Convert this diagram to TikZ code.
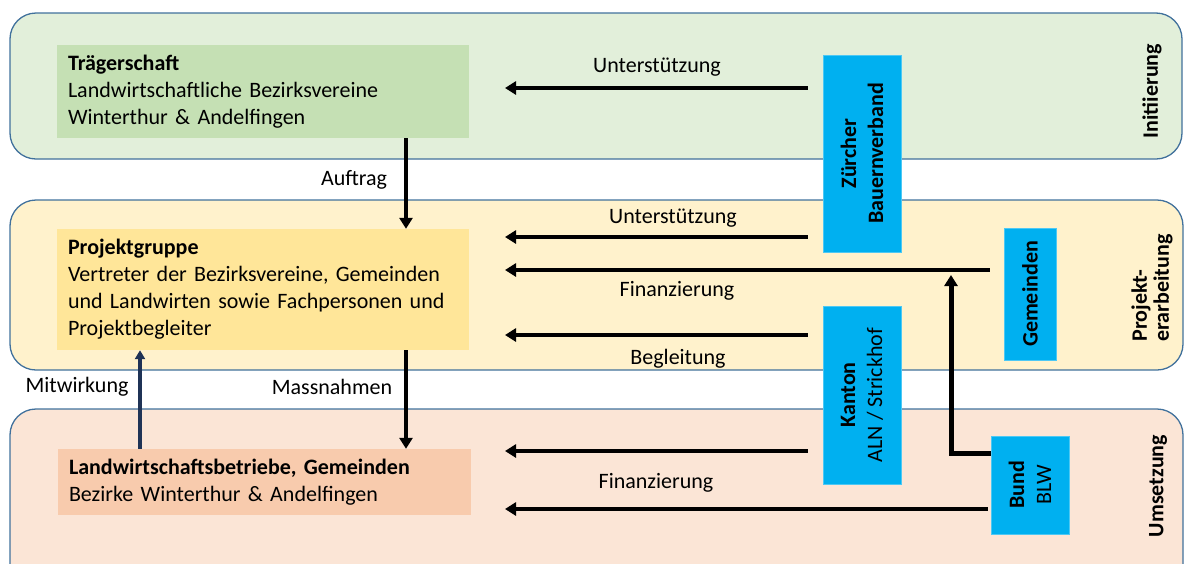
\documentclass[tikz,border=0pt]{standalone}
\usepackage{fontspec}
\setmainfont{Carlito}
\usepackage{tikz}
\usetikzlibrary{arrows.meta,calc,positioning}
\definecolor{bandline}{HTML}{41719C}
\definecolor{bandgreen}{HTML}{E2EFDA}
\definecolor{bandyellow}{HTML}{FFF2CC}
\definecolor{bandsalmon}{HTML}{FBE5D6}
\definecolor{boxgreen}{HTML}{C5E0B4}
\definecolor{boxyellow}{HTML}{FFE699}
\definecolor{boxsalmon}{HTML}{F8CBAD}
\definecolor{actorblue}{HTML}{00B0F0}
\definecolor{navy}{HTML}{1F3356}
\tikzstyle{band}=[draw=bandline,line width=1.3pt,rounded corners=26pt,inner sep=0pt]
\tikzstyle{group}=[inner xsep=11pt,inner ysep=0pt,align=left,font=\fontsize{22}{27}\selectfont]
\tikzstyle{actor}=[fill=actorblue,draw=actorblue!70!white,line width=.8pt,rotate=90,align=center,inner sep=0pt,font=\fontsize{22}{27}\selectfont\bfseries]
\tikzstyle{phase}=[rotate=90,align=left,inner sep=0pt,font=\fontsize{22}{22}\selectfont\bfseries]
\tikzstyle{label}=[inner sep=0pt,font=\fontsize{22}{24}\selectfont]
\tikzstyle{flow}=[-{Triangle[length=11pt,width=13pt]},line width=4.5pt,draw=black]
\tikzstyle{thinflow}=[-{Triangle[length=9pt,width=10pt]},line width=3.5pt,draw=navy]

\begin{document}
\begin{tikzpicture}[x=1pt,y=-1pt]
    \useasboundingbox (0,0) rectangle (1184,563);

    % phase bands
    \draw[band,fill=bandgreen] (10,13) rectangle (1182,159);
    \draw[band,fill=bandyellow] (10,200) rectangle (1183,370);
    \draw[band,fill=bandsalmon] (10,409) rectangle (1183,610);

    \node[phase] (initiierung) at (1152,91) {Initiierung};
    \node[phase] (erarbeitung) at (1152,288) {Projekt-\\erarbeitung};
    \node[phase] (umsetzung) at (1158,486) {Umsetzung};

    % groups
    \node[group,fill=boxgreen,minimum width=412pt,minimum height=93pt,text width=390pt] (traeger) at (263,91.5) {\textbf{Trägerschaft}\\Landwirtschaftliche Bezirksvereine\\Winterthur \& Andelfingen};
    \node[group,fill=boxyellow,minimum width=412pt,minimum height=121pt,text width=390pt] (projekt) at (263,289.5) {\textbf{Projektgruppe}\\Vertreter der Bezirksvereine, Gemeinden\\und Landwirten sowie Fachpersonen und\\Projektbegleiter};
    \node[group,fill=boxsalmon,minimum width=413pt,minimum height=66pt,text width=391pt] (betriebe) at (264.5,482) {\textbf{Landwirtschaftsbetriebe, Gemeinden}\\Bezirke Winterthur \& Andelfingen};

    % actors
    \node[actor,minimum width=197pt,minimum height=78pt] (bauernverband) at (862,153.5) {Zürcher\\Bauernverband};
    \node[actor,minimum width=132pt,minimum height=52pt] (gemeinden) at (1030,294) {Gemeinden};
    \node[actor,minimum width=178pt,minimum height=78pt] (kanton) at (862,395) {Kanton\\\mdseries ALN / Strickhof};
    \node[actor,minimum width=98pt,minimum height=78pt] (bund) at (1030,485) {Bund\\\mdseries BLW};

    % end points of the flows
    \coordinate (mid) at (406,0);
    \coordinate (side) at (140,0);
    \coordinate (unterstuetzung1) at (505,88);
    \coordinate (unterstuetzung2) at (505,237);
    \coordinate (finanzierung1) at (505,270);
    \coordinate (begleitung) at (505,335);
    \coordinate (kantonumsetzung) at (505,451);
    \coordinate (finanzierung2) at (505,509);
    \coordinate (bundknick) at (951,453);
    \coordinate (bundtop) at (951,275);

    \draw[flow,shorten <=15pt] (bauernverband.north |- unterstuetzung1) -- (unterstuetzung1);
    \draw[flow,shorten <=15pt] (bauernverband.north |- unterstuetzung2) -- (unterstuetzung2);
    \draw[flow,shorten <=14pt] (gemeinden.north |- finanzierung1) -- (finanzierung1);
    \draw[flow,shorten <=15pt] (kanton.north |- begleitung) -- (begleitung);
    \draw[flow,shorten <=15pt] (kanton.north |- kantonumsetzung) -- (kantonumsetzung);
    \draw[flow,shorten <=3pt] (bund.north |- finanzierung2) -- (finanzierung2);
    \draw[flow,line width=5pt] (bund.north |- bundknick) -- (bundknick) -- (bundtop);

    \draw[flow] (traeger.south -| mid) -- (projekt.north -| mid);
    \draw[flow] (projekt.south -| mid) -- (betriebe.north -| mid);
    \draw[thinflow] (betriebe.north -| side) -- (projekt.south -| side);

    % labels
    \node[label] (lunterstuetzung1) at (657,67) {Unterstützung};
    \node[label] (lunterstuetzung2) at (673,218) {Unterstützung};
    \node[label] (lfinanzierung1) at (677,291) {Finanzierung};
    \node[label] (lbegleitung) at (678,359) {Begleitung};
    \node[label] (lfinanzierung2) at (656,483) {Finanzierung};
    \node[label] (lauftrag) at (354,180) {Auftrag};
    \node[label] (lmassnahmen) at (332,387) {Massnahmen};
    \node[label] (lmitwirkung) at (77,387) {Mitwirkung};
\end{tikzpicture}
\end{document}
